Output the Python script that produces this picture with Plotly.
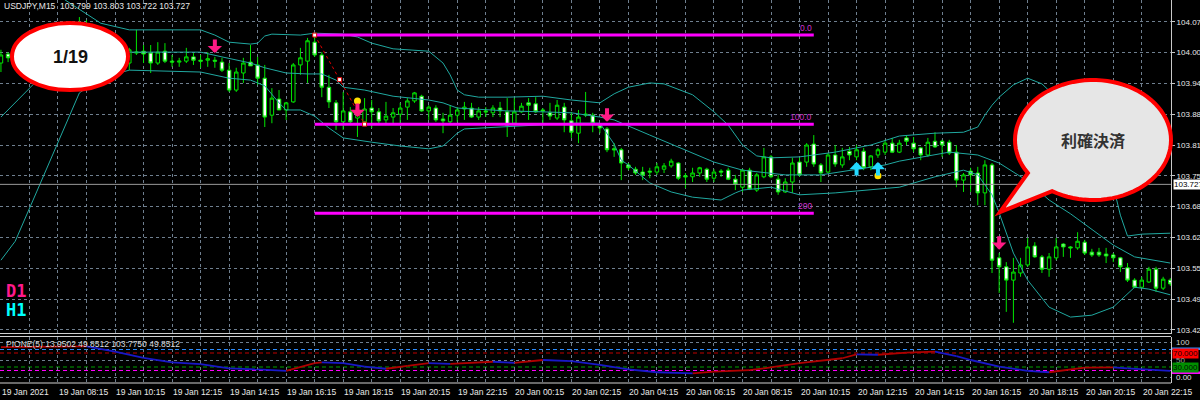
import math
import plotly.graph_objects as go

# ---------------- data ----------------
bars = list(range(165))  # M15 bars, 19 Jan 06:15 ... 20 Jan 23:15

opens = [103.983, 104.002, 103.994, 103.998, 103.989, 104.002, 103.996, 104.006, 104.000, 104.011,
         104.004, 104.015, 104.006, 103.998, 104.011, 104.000, 103.994, 104.002, 103.983, 104.004,
         104.008, 104.004, 103.983, 104.008, 103.987, 103.985, 103.987, 103.996, 103.989, 103.989,
         103.989, 103.985, 103.968, 103.926, 103.962, 103.985, 103.979, 103.951, 103.873, 103.907,
         103.884, 103.901, 103.979, 103.987, 104.027, 104.000, 103.932, 103.899, 103.859, 103.880,
         103.867, 103.859, 103.888, 103.880, 103.863, 103.869, 103.875, 103.890, 103.903, 103.913,
         103.882, 103.888, 103.865, 103.859, 103.873, 103.886, 103.888, 103.869, 103.882, 103.878,
         103.888, 103.880, 103.856, 103.880, 103.899, 103.897, 103.884, 103.878, 103.867, 103.890,
         103.861, 103.835, 103.873, 103.873, 103.852, 103.844, 103.802, 103.800, 103.768, 103.759,
         103.753, 103.755, 103.753, 103.759, 103.766, 103.772, 103.745, 103.743, 103.751, 103.759,
         103.740, 103.755, 103.757, 103.738, 103.721, 103.757, 103.715, 103.743, 103.785, 103.738,
         103.711, 103.732, 103.774, 103.774, 103.812, 103.768, 103.753, 103.789, 103.768, 103.797,
         103.785, 103.797, 103.764, 103.789, 103.795, 103.814, 103.795, 103.825, 103.814, 103.804,
         103.789, 103.818, 103.818, 103.816, 103.795, 103.736, 103.755, 103.751, 103.709, 103.768,
         103.572, 103.553, 103.525, 103.540, 103.557, 103.597, 103.574, 103.548, 103.572, 103.601,
         103.595, 103.593, 103.605, 103.584, 103.584, 103.580, 103.578, 103.572, 103.551, 103.525,
         103.510, 103.521, 103.548, 103.508, 103.525]
highs = [104.011, 104.006, 104.011, 104.015, 104.006, 104.019, 104.011, 104.023, 104.017, 104.032,
         104.053, 104.080, 104.074, 104.021, 104.027, 104.017, 104.015, 104.019, 104.015, 104.053,
         104.021, 104.021, 104.027, 104.025, 104.000, 103.994, 104.015, 104.004, 104.000, 104.006,
         103.996, 103.994, 103.983, 103.973, 103.994, 104.021, 103.996, 103.979, 103.930, 103.926,
         103.901, 103.983, 104.015, 104.036, 104.042, 104.006, 103.958, 103.905, 103.922, 103.890,
         103.899, 103.909, 103.905, 103.888, 103.901, 103.888, 103.899, 103.909, 103.922, 103.916,
         103.894, 103.894, 103.878, 103.894, 103.890, 103.901, 103.899, 103.890, 103.890, 103.894,
         103.901, 103.909, 103.909, 103.899, 103.909, 103.911, 103.888, 103.899, 103.905, 103.899,
         103.880, 103.884, 103.922, 103.878, 103.856, 103.848, 103.814, 103.804, 103.772, 103.764,
         103.764, 103.762, 103.772, 103.772, 103.781, 103.774, 103.751, 103.762, 103.764, 103.762,
         103.759, 103.759, 103.762, 103.747, 103.759, 103.762, 103.751, 103.804, 103.789, 103.747,
         103.740, 103.783, 103.783, 103.814, 103.831, 103.772, 103.793, 103.810, 103.804, 103.806,
         103.810, 103.804, 103.789, 103.804, 103.821, 103.825, 103.821, 103.831, 103.827, 103.806,
         103.825, 103.837, 103.821, 103.821, 103.810, 103.751, 103.762, 103.764, 103.778, 103.772,
         103.582, 103.563, 103.572, 103.572, 103.614, 103.605, 103.578, 103.582, 103.614, 103.603,
         103.597, 103.626, 103.610, 103.591, 103.593, 103.593, 103.582, 103.574, 103.561, 103.529,
         103.532, 103.553, 103.553, 103.532, 103.529]
lows = [103.964, 103.985, 103.981, 103.985, 103.977, 103.989, 103.983, 103.994, 103.987, 103.998,
        103.992, 104.000, 103.989, 103.985, 103.994, 103.983, 103.981, 103.979, 103.968, 104.000,
        103.983, 103.962, 103.979, 103.983, 103.975, 103.975, 103.983, 103.979, 103.973, 103.975,
        103.973, 103.964, 103.922, 103.922, 103.941, 103.977, 103.937, 103.848, 103.856, 103.884,
        103.863, 103.899, 103.958, 103.941, 103.996, 103.911, 103.888, 103.842, 103.842, 103.856,
        103.827, 103.856, 103.846, 103.856, 103.856, 103.856, 103.856, 103.863, 103.899, 103.880,
        103.863, 103.859, 103.835, 103.856, 103.859, 103.863, 103.867, 103.863, 103.869, 103.869,
        103.869, 103.827, 103.852, 103.878, 103.863, 103.878, 103.856, 103.863, 103.863, 103.837,
        103.825, 103.814, 103.869, 103.837, 103.835, 103.795, 103.785, 103.736, 103.757, 103.747,
        103.736, 103.740, 103.747, 103.751, 103.762, 103.736, 103.719, 103.732, 103.743, 103.732,
        103.732, 103.743, 103.736, 103.715, 103.711, 103.715, 103.711, 103.740, 103.740, 103.705,
        103.709, 103.709, 103.743, 103.764, 103.764, 103.732, 103.751, 103.764, 103.762, 103.778,
        103.778, 103.757, 103.757, 103.783, 103.789, 103.793, 103.793, 103.810, 103.795, 103.778,
        103.785, 103.804, 103.785, 103.789, 103.721, 103.711, 103.711, 103.683, 103.683, 103.540,
        103.498, 103.458, 103.435, 103.532, 103.553, 103.572, 103.540, 103.532, 103.567, 103.574,
        103.572, 103.589, 103.578, 103.574, 103.574, 103.561, 103.563, 103.542, 103.521, 103.508,
        103.508, 103.519, 103.500, 103.504, 103.513]
closes = [104.000, 103.994, 103.998, 103.989, 104.002, 103.996, 104.006, 104.000, 104.011, 104.004,
          104.015, 104.006, 103.998, 104.011, 104.000, 103.994, 104.002, 103.983, 104.011, 104.006,
          104.002, 103.983, 104.006, 103.987, 103.985, 103.987, 103.996, 103.989, 103.987, 103.992,
          103.987, 103.968, 103.926, 103.964, 103.983, 103.977, 103.951, 103.869, 103.909, 103.884,
          103.899, 103.979, 103.994, 104.030, 104.000, 103.932, 103.901, 103.859, 103.882, 103.859,
          103.884, 103.886, 103.880, 103.861, 103.871, 103.878, 103.888, 103.903, 103.920, 103.882,
          103.890, 103.863, 103.861, 103.873, 103.884, 103.890, 103.869, 103.882, 103.880, 103.888,
          103.882, 103.852, 103.880, 103.892, 103.894, 103.880, 103.882, 103.871, 103.894, 103.863,
          103.837, 103.869, 103.875, 103.856, 103.846, 103.800, 103.800, 103.772, 103.762, 103.751,
          103.747, 103.753, 103.764, 103.766, 103.776, 103.740, 103.743, 103.751, 103.762, 103.738,
          103.753, 103.753, 103.738, 103.728, 103.757, 103.717, 103.747, 103.785, 103.743, 103.711,
          103.732, 103.772, 103.747, 103.810, 103.770, 103.751, 103.789, 103.770, 103.785, 103.789,
          103.800, 103.762, 103.787, 103.800, 103.814, 103.795, 103.814, 103.818, 103.802, 103.789,
          103.816, 103.806, 103.810, 103.793, 103.736, 103.747, 103.747, 103.709, 103.768, 103.567,
          103.553, 103.525, 103.542, 103.557, 103.595, 103.574, 103.548, 103.574, 103.595, 103.595,
          103.593, 103.607, 103.582, 103.578, 103.578, 103.576, 103.572, 103.553, 103.525, 103.510,
          103.525, 103.548, 103.508, 103.527, 103.517]

# Bollinger bands (bar, price)
bb_upper = [(0, 104.171), (6, 104.150), (9, 104.116), (12, 104.086), (14, 104.067), (18, 104.053),
            (28, 104.053), (30, 104.042), (32, 104.027), (35, 104.023), (36, 104.025), (37, 104.040),
            (38, 104.044), (42, 104.042), (44, 104.046), (48, 104.044), (50, 104.038), (52, 104.025),
            (55, 104.013), (60, 104.008), (62, 103.983), (63, 103.958), (64, 103.926), (65, 103.916),
            (67, 103.911), (71, 103.911), (76, 103.913), (80, 103.905), (83, 103.901), (84, 103.899),
            (86, 103.918), (88, 103.932), (91, 103.941), (93, 103.939), (97, 103.916), (100, 103.880),
            (102, 103.852), (104, 103.810), (106, 103.787), (108, 103.783), (112, 103.785), (117, 103.795),
            (122, 103.810), (126, 103.829), (131, 103.835), (135, 103.837), (137, 103.848), (138, 103.873),
            (139, 103.894), (140, 103.911), (142, 103.937), (144, 103.951), (146, 103.939), (148, 103.911),
            (150, 103.882), (152, 103.842), (154, 103.791), (156, 103.724), (157, 103.662), (158, 103.618),
            (160, 103.622), (164, 103.624)]
bb_middle = [(0, 103.869), (2, 103.899), (5, 103.945), (10, 103.979), (14, 103.998), (18, 104.006),
             (28, 104.006), (31, 103.996), (33, 103.989), (35, 103.983), (37, 103.973), (40, 103.962),
             (43, 103.960), (45, 103.960), (47, 103.947), (48, 103.932), (51, 103.926), (55, 103.913),
             (60, 103.905), (62, 103.899), (64, 103.888), (71, 103.882), (76, 103.880), (80, 103.878),
             (84, 103.869), (86, 103.863), (91, 103.831), (96, 103.800), (100, 103.774), (104, 103.757),
             (110, 103.747), (115, 103.747), (119, 103.757), (124, 103.768), (126, 103.776), (131, 103.789),
             (133, 103.795), (137, 103.789), (140, 103.772), (144, 103.734), (147, 103.694), (150, 103.665),
             (154, 103.622), (156, 103.599), (159, 103.574), (164, 103.561)]
bb_lower = [(0, 103.567), (2, 103.607), (5, 103.711), (9, 103.852), (11, 103.920), (14, 103.951),
            (18, 103.968), (28, 103.964), (32, 103.951), (35, 103.947), (37, 103.935), (39, 103.899),
            (40, 103.884), (42, 103.884), (44, 103.871), (46, 103.846), (48, 103.825), (52, 103.816),
            (56, 103.808), (60, 103.802), (62, 103.808), (63, 103.821), (64, 103.835), (65, 103.844),
            (70, 103.848), (76, 103.852), (80, 103.856), (84, 103.856), (85, 103.835), (86, 103.812),
            (87, 103.778), (88, 103.768), (91, 103.730), (94, 103.711), (97, 103.700), (101, 103.694),
            (103, 103.709), (104, 103.715), (108, 103.721), (112, 103.705), (117, 103.709), (124, 103.719),
            (126, 103.721), (131, 103.743), (135, 103.757), (137, 103.747), (139, 103.705), (140, 103.667),
            (142, 103.582), (144, 103.525), (147, 103.468), (150, 103.447), (153, 103.451), (156, 103.468),
            (159, 103.510), (161, 103.506), (164, 103.494)]

bid_price = 103.727
header_text = "USDJPY,M15  103.799 103.803 103.722 103.727"

price_ticks = [104.070, 104.005, 103.940, 103.875, 103.810, 103.745,
               103.680, 103.615, 103.550, 103.485, 103.420]
price_tick_text = ["104.07", "104.00", "103.94", "103.88", "103.81", "103.75",
                   "103.68", "103.62", "103.55", "103.49", "103.42"]

time_label_bars = list(range(0, 161, 8))
time_labels = ["19 Jan 2021", "19 Jan 08:15", "19 Jan 10:15", "19 Jan 12:15", "19 Jan 14:15",
               "19 Jan 16:15", "19 Jan 18:15", "19 Jan 20:15", "19 Jan 22:15", "20 Jan 00:15",
               "20 Jan 02:15", "20 Jan 04:15", "20 Jan 06:15", "20 Jan 08:15", "20 Jan 10:15",
               "20 Jan 12:15", "20 Jan 14:15", "20 Jan 16:15", "20 Jan 18:15", "20 Jan 20:15",
               "20 Jan 22:15"]

# PIONE(5) sub-window (bar, value)
pione = [(0, 87), (12, 89), (16, 74), (20, 56), (24, 43), (28, 38), (32, 26), (36, 23), (40, 19),
         (44, 41), (45, 43), (48, 41), (51, 31), (54, 25), (57, 33), (60, 41), (63, 39), (69, 45),
         (72, 42), (76, 50), (80, 47), (84, 36), (88, 23), (92, 15), (97, 12), (100, 17), (105, 21),
         (107, 26), (112, 41), (118, 55), (120, 66), (123, 65), (127, 71), (131, 74), (134, 61),
         (136, 50), (140, 31), (144, 19), (147, 15), (152, 28), (156, 29), (158, 26), (164, 19)]
pione_levels = [80, 70, 30, 20]
pione_level_colors = ["#2b8cff", "#c00000", "#00a000", "#ff00ff"]
pione_header = "PIONE(5) 13.9502 49.8512 103.7750 49.8512"

# signals
sell_bars = [30, 50, 85, 140]
sell_prices = [104.004, 103.869, 103.859, 103.589]
buy_bars = [120, 123]
buy_prices = [103.774, 103.774]
dot_bars = [50, 123]
dot_prices = [103.903, 103.745]

# Fibonacci object
fib_start_bar, fib_anchor_bar, fib_end_bar = 44, 51, 114
fib_high, fib_low = 104.042, 103.854
fib_levels = [0, 100, 200]
fib_texts = ["0.0", "100.0", "200"]

# ---------------- layout helpers ----------------
W, H = 1200, 400
ML, MR, MT, MB = 0, 29, 0, 17
PW, PH = W - ML - MR, H - MT - MB


def px(x):
    return (x - ML) / PW


def py(y):
    return (PH - (y - MT)) / PH


GREEN = "#00e600"
TEAL = "#20a8a0"
GRID = "#6f7f8f"
PINK = "#ff1a85"
CYAN = "#22d8ff"
FONT = "Liberation Sans"

fig = go.Figure()
annotations = []

fig.add_trace(go.Candlestick(
    x=bars, open=opens, high=highs, low=lows, close=closes,
    increasing=dict(line=dict(color=GREEN, width=1), fillcolor="black"),
    decreasing=dict(line=dict(color=GREEN, width=1), fillcolor="white"),
    whiskerwidth=0, hoverinfo="skip", showlegend=False, xaxis="x", yaxis="y"))

for band in (bb_upper, bb_middle, bb_lower):
    fig.add_trace(go.Scatter(x=[b for b, _ in band], y=[v for _, v in band], mode="lines",
                             line=dict(color=TEAL, width=1), hoverinfo="skip",
                             showlegend=False, xaxis="x", yaxis="y"))

# Fibonacci levels
for lvl, txt in zip(fib_levels, fib_texts):
    pr = fib_high - (fib_high - fib_low) * lvl / 100.0
    fig.add_trace(go.Scatter(x=[fib_start_bar, fib_end_bar], y=[pr, pr], mode="lines",
                             line=dict(color="#ff00ff", width=3), hoverinfo="skip",
                             showlegend=False, xaxis="x", yaxis="y"))
    annotations.append(dict(x=fib_end_bar, y=pr, xref="x", yref="y", text=txt, showarrow=False,
                            xanchor="right", yanchor="bottom", yshift=0,
                            font=dict(family=FONT, size=8.5, color="#d030d0")))

fig.add_trace(go.Scatter(x=[fib_start_bar, fib_anchor_bar], y=[fib_high, fib_low], mode="lines",
                         line=dict(color="#e00000", width=1, dash="dot"), hoverinfo="skip",
                         showlegend=False, xaxis="x", yaxis="y"))
fig.add_trace(go.Scatter(x=[fib_start_bar, (fib_start_bar + fib_anchor_bar) / 2, fib_anchor_bar],
                         y=[fib_high, (fib_high + fib_low) / 2, fib_low], mode="markers",
                         marker=dict(symbol="square", size=4, color="white",
                                     line=dict(color="#e00000", width=1)),
                         hoverinfo="skip", showlegend=False, xaxis="x", yaxis="y"))

fig.add_trace(go.Scatter(x=dot_bars, y=dot_prices, mode="markers",
                         marker=dict(size=7, color="#ffe000"), hoverinfo="skip",
                         showlegend=False, xaxis="x", yaxis="y"))

# PIONE lines: rising segments red, falling blue
rx, ry_, bx, by = [], [], [], []
for (b0, v0), (b1, v1) in zip(pione[:-1], pione[1:]):
    if v1 >= v0:
        rx += [b0, b1, None]; ry_ += [v0, v1, None]
    else:
        bx += [b0, b1, None]; by += [v0, v1, None]
fig.add_trace(go.Scatter(x=rx, y=ry_, mode="lines", line=dict(color="#b00000", width=1.8),
                         hoverinfo="skip", showlegend=False, xaxis="x2", yaxis="y2"))
fig.add_trace(go.Scatter(x=bx, y=by, mode="lines", line=dict(color="#1818c8", width=1.8),
                         hoverinfo="skip", showlegend=False, xaxis="x2", yaxis="y2"))

shapes = []
for lvl, col in zip(pione_levels, pione_level_colors):
    shapes.append(dict(type="line", xref="paper", yref="y2", x0=0, x1=1, y0=lvl, y1=lvl,
                       line=dict(color=col, width=1, dash="4px,3px"), layer="below"))

# bid line
shapes.append(dict(type="line", xref="paper", yref="y", x0=0, x1=1, y0=bid_price, y1=bid_price,
                   line=dict(color="#9a9a9a", width=1)))
# window frames
for yy in (333.5, 336.5, 383):
    shapes.append(dict(type="line", xref="paper", yref="paper", x0=0, x1=1, y0=py(yy), y1=py(yy),
                       line=dict(color="#d0d0d0", width=1)))

# "1/19" ellipse
shapes.append(dict(type="circle", xref="paper", yref="paper", x0=px(12), x1=px(128),
                   y0=py(90), y1=py(23), fillcolor="white", line=dict(color="#ff0000", width=4),
                   layer="above"))

# speech bubble
cx, cy, erx, ery = 1093, 140, 78, 60
a0, a1 = 146.6, 481.6
pts = []
n = 80
for k in range(n + 1):
    a = math.radians(a0 + (a1 - a0) * k / n)
    pts.append((cx + erx * math.cos(a), cy + ery * math.sin(a)))
pts.append((1000, 212))
path = "M " + " L ".join(f"{px(x):.5f},{py(y):.5f}" for x, y in pts) + " Z"
shapes.append(dict(type="path", xref="paper", yref="paper", path=path, fillcolor="#e6e6e6",
                   line=dict(color="#ff0000", width=4), layer="above"))

# indicator right-side markers
shapes.append(dict(type="rect", xref="paper", yref="paper", x0=px(1172), x1=px(1200),
                   y0=py(350), y1=py(347.5), fillcolor="#2b8cff", line=dict(width=0)))
shapes.append(dict(type="rect", xref="paper", yref="paper", x0=px(1172), x1=px(1200),
                   y0=py(374), y1=py(371.5), fillcolor="#ff00ff", line=dict(width=0)))

annotations.append(dict(xref="paper", yref="paper", x=px(2), y=1, xanchor="left", yanchor="top",
                        text=header_text, showarrow=False, yshift=1,
                        font=dict(family=FONT, size=8.5, color="#e8e8e8")))
annotations.append(dict(xref="paper", yref="paper", x=px(4), y=py(337), xanchor="left", yanchor="top",
                        text=pione_header, showarrow=False,
                        font=dict(family=FONT, size=8.5, color="#d8d8d8")))
for b, t in zip(time_label_bars, time_labels):
    annotations.append(dict(xref="x", yref="paper", x=b, y=0, xanchor="left", yanchor="top",
                            text=t, showarrow=False, yshift=-2, xshift=-1,
                            font=dict(family=FONT, size=8.5, color="#e8e8e8")))
annotations.append(dict(xref="paper", yref="paper", x=px(70), y=py(57), text="<b>1/19</b>",
                        xanchor="center", yanchor="middle",
                        showarrow=False, font=dict(family=FONT, size=18, color="#111111")))
annotations.append(dict(xref="paper", yref="paper", x=px(1093), y=py(140), text="<b>利確決済</b>",
                        xanchor="center", yanchor="middle",
                        showarrow=False, font=dict(family="Noto Sans CJK JP", size=16, color="#333333")))
annotations.append(dict(xref="paper", yref="paper", x=px(4), y=py(291), xanchor="left",
                        yanchor="middle", text="<b>D1</b>", showarrow=False,
                        font=dict(family="DejaVu Sans Mono", size=17, color="#ff1a8c")))
annotations.append(dict(xref="paper", yref="paper", x=px(4), y=py(310), xanchor="left",
                        yanchor="middle", text="<b>H1</b>", showarrow=False,
                        font=dict(family="DejaVu Sans Mono", size=17, color="#00ffff")))
# current price box
annotations.append(dict(xref="paper", yref="y", x=px(1173), y=bid_price, xanchor="left",
                        yanchor="middle", text="103.727", showarrow=False, bgcolor="white",
                        borderpad=0, font=dict(family=FONT, size=8, color="black")))
# indicator scale labels
for val, txt, bg, fc in [(100, "100", None, "#d0d0d0"), (70, "70.000", "#ff0000", "#200000"),
                         (50, "50", None, "#a0a0a0"), (30, "30.000", "#009000", "#001000"),
                         (0, "0.00", None, "#e0e0e0")]:
    d = dict(xref="paper", yref="y2", x=px(1175), y=val, xanchor="left", yanchor="middle",
             text=txt, showarrow=False, borderpad=0,
             font=dict(family=FONT, size=8, color=fc))
    if bg:
        d["bgcolor"] = bg
        d["x"] = px(1172)
    annotations.append(d)
# signal arrows
for b, p in zip(sell_bars, sell_prices):
    annotations.append(dict(xref="x", yref="y", x=b, y=p, text="", showarrow=True, arrowhead=1,
                            arrowsize=0.6, arrowwidth=4, arrowcolor=PINK, ax=0, ay=-15))
for b, p in zip(buy_bars, buy_prices):
    annotations.append(dict(xref="x", yref="y", x=b, y=p, text="", showarrow=True, arrowhead=1,
                            arrowsize=0.6, arrowwidth=4, arrowcolor=CYAN, ax=0, ay=15))

xr = [-0.133, 164.1]
grid_x = list(range(4, 165, 4))
axis_common = dict(showgrid=True, gridcolor=GRID, griddash="3px,3px", gridwidth=1, zeroline=False)

fig.update_layout(
    template="none",
    width=W, height=H,
    margin=dict(l=ML, r=MR, t=MT, b=MB),
    paper_bgcolor="black", plot_bgcolor="black",
    showlegend=False,
    font=dict(family=FONT, size=8.5, color="#e8e8e8"),
    xaxis=dict(domain=[0, 1], range=xr, anchor="y", tickvals=grid_x, showticklabels=False,
               ticks="", showline=False, rangeslider=dict(visible=False), automargin=False,
               **axis_common),
    xaxis2=dict(domain=[0, 1], range=xr, anchor="y2", matches="x", tickvals=grid_x,
                showticklabels=False, ticks="", showline=False, automargin=False, **axis_common),
    yaxis=dict(domain=[py(334), 1], range=[103.4113, 104.116], anchor="x", side="right",
               tickvals=price_ticks, ticktext=price_tick_text, ticks="outside", ticklen=3,
               tickcolor="#c8c8c8", tickfont=dict(family=FONT, size=8, color="#e8e8e8"),
               showline=True, linecolor="#c8c8c8", linewidth=1, automargin=False, **axis_common),
    yaxis2=dict(domain=[0, py(337)], range=[-15.71, 115.71], anchor="x2", side="right",
                tickvals=[0, 50, 100], showticklabels=False, ticks="", showline=True,
                linecolor="#c8c8c8", linewidth=1, automargin=False, **axis_common),
    shapes=shapes,
)
fig.layout.annotations = annotations

fig.write_html("out.html", config={"displayModeBar": False},
               post_script="document.body.style.margin='0px';document.body.style.overflow='hidden';")
